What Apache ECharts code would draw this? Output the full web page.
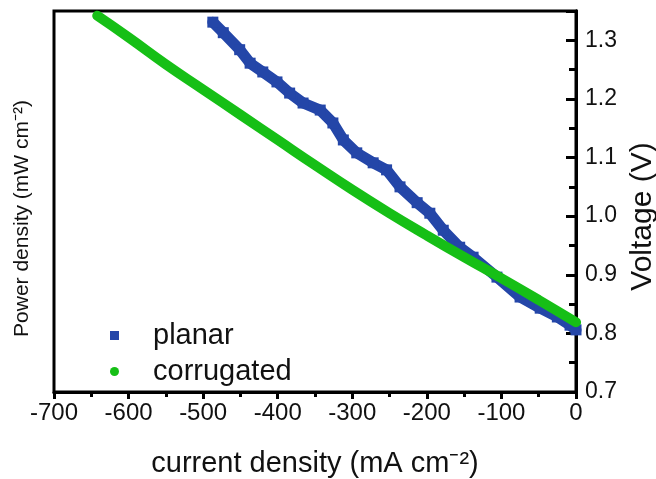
<!DOCTYPE html>
<html>
<head>
<meta charset="utf-8">
<script src="https://cdn.jsdelivr.net/npm/echarts@6/dist/echarts.min.js"></script>
<style>html,body{margin:0;padding:0;background:#fff}#c{width:656px;height:479px}</style>
</head>
<body>
<div id="c"></div>
<script>
// current density (mA cm^-2) and voltage (V)
const planarX = [-487, -473, -451, -437, -420, -401, -384, -366, -343, -326, -312, -294, -272, -254, -236, -213, -196, -178, -156, -138, -106, -75, -48, -25, -8, 0];
const planarY = [1.331, 1.313, 1.284, 1.261, 1.246, 1.229, 1.210, 1.193, 1.181, 1.159, 1.130, 1.108, 1.091, 1.079, 1.050, 1.023, 1.005, 0.976, 0.947, 0.930, 0.896, 0.862, 0.843, 0.828, 0.814, 0.806];
const corrX = [-642, -600, -550, -500, -450, -400, -350, -300, -250, -200, -150, -100, -50, 0];
const corrY = [1.342, 1.305, 1.259, 1.216, 1.173, 1.130, 1.087, 1.045, 1.005, 0.967, 0.930, 0.894, 0.857, 0.819];
const seriesNames = ['planar', 'corrugated'];
const xTitle = 'current density (mA cm\u207B\u00B2)';
const yLeftTitle = 'Power density (mW cm\u207B\u00B2)';
const yRightTitle = 'Voltage (V)';

const FONT = '"Liberation Sans", Arial, sans-serif';
const BLUE = '#2446a8';
const GREEN = '#16bf16';

const chart = echarts.init(document.getElementById('c'), null, {renderer: 'canvas'});
chart.setOption({
  animation: false,
  grid: {left: 54, right: 80, top: 11, bottom: 87, outerBoundsMode: 'none', containLabel: false,
    show: true, borderColor: '#000', borderWidth: 3, backgroundColor: 'transparent'},
  legend: {
    orient: 'vertical', left: 105, top: 316, itemGap: 7,
    itemWidth: 9, itemHeight: 9,
    data: [{name: seriesNames[0], icon: 'rect'}, {name: seriesNames[1], icon: 'circle'}],
    textStyle: {fontFamily: FONT, fontSize: 29, color: '#111', padding: [0, 0, 0, 29]}
  },
  xAxis: {
    type: 'value', min: -700, max: 0, interval: 100,
    name: xTitle, nameLocation: 'middle', nameGap: 57,
    nameTextStyle: {fontFamily: FONT, fontSize: 29, color: '#111'},
    axisLine: {show: true, onZero: false, lineStyle: {color: '#000', width: 3}},
    axisTick: {show: true, inside: false, length: 7, lineStyle: {color: '#000', width: 3}},
    minorTick: {show: true, splitNumber: 2, length: 5, lineStyle: {color: '#000', width: 3}},
    axisLabel: {fontFamily: FONT, fontSize: 24, color: '#111', margin: 9},
    splitLine: {show: false}
  },
  yAxis: [
    {
      type: 'value', position: 'left', min: 0.7, max: 1.35,
      name: yLeftTitle, nameLocation: 'middle', nameGap: 21, nameRotate: 90,
      nameTextStyle: {fontFamily: FONT, fontSize: 21, color: '#111', padding: [0, 34, 0, 0]},
      axisLine: {show: true, lineStyle: {color: '#000', width: 3}},
      axisTick: {show: false}, axisLabel: {show: false}, splitLine: {show: false}
    },
    {
      type: 'value', position: 'right', min: 0.7, max: 1.35, interval: 0.1,
      name: yRightTitle, nameLocation: 'middle', nameGap: 47, nameRotate: 90,
      nameTextStyle: {fontFamily: FONT, fontSize: 30, color: '#111', padding: [0, 30, 0, 0]},
      axisLine: {show: true, lineStyle: {color: '#000', width: 3}},
      axisTick: {show: true, inside: true, length: 10, lineStyle: {color: '#000', width: 3}},
      minorTick: {show: true, splitNumber: 2, length: 7, lineStyle: {color: '#000', width: 3}},
      axisLabel: {fontFamily: FONT, fontSize: 23, color: '#111', margin: 9, showMaxLabel: false,
        formatter: v => v.toFixed(1)},
      splitLine: {show: false}
    }
  ],
  series: [
    {
      name: seriesNames[0], type: 'line', yAxisIndex: 1,
      data: planarX.map((x, i) => [x, planarY[i]]),
      symbol: 'rect', symbolSize: 11, showSymbol: true,
      itemStyle: {color: BLUE},
      lineStyle: {color: BLUE, width: 11, cap: 'round', join: 'round'},
      z: 2
    },
    {
      name: seriesNames[1], type: 'line', yAxisIndex: 1, smooth: true,
      data: corrX.map((x, i) => [x, corrY[i]]),
      symbol: 'circle', symbolSize: 10, showSymbol: false,
      itemStyle: {color: GREEN},
      lineStyle: {color: GREEN, width: 10, cap: 'round', join: 'round'},
      z: 3
    }
  ]
});
</script>
</body>
</html>
